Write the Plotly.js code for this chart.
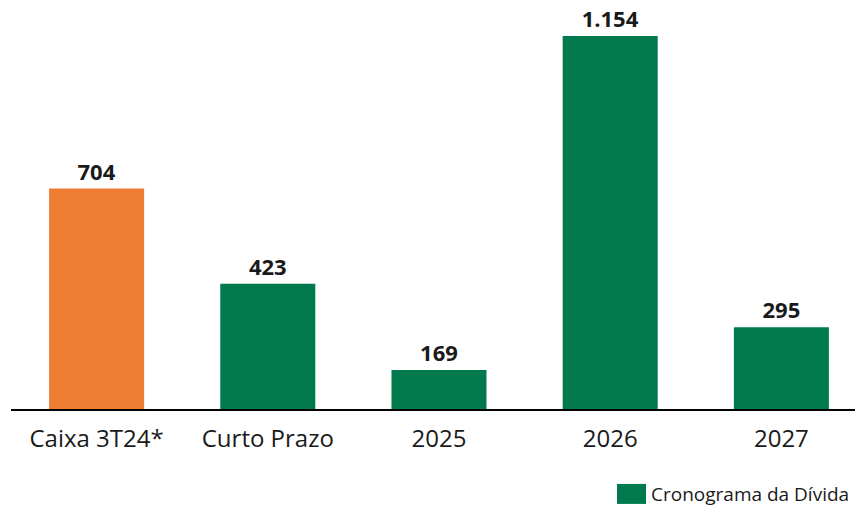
<!DOCTYPE html>
<html><head><meta charset="utf-8">
<script src="https://cdn.plot.ly/plotly-3.0.1.min.js"></script>
<style>body{margin:0;background:#fff}#c{width:855px;height:506px}</style>
</head><body><div id="c"></div>
<script>
const categories = ["Caixa 3T24*", "Curto Prazo", "2025", "2026", "2027"];
const cashCategories = ["Caixa 3T24*"];
const cashValues = [704];
const cashLabels = ["704"];
const debtCategories = ["Curto Prazo", "2025", "2026", "2027"];
const debtValues = [423, 169, 1154, 295];
const debtLabels = ["423", "169", "1.154", "295"];
const seriesName = "Cronograma da Dívida";

const FONT = "Open Sans, Noto Sans, sans-serif";
const labelFont = {family: FONT, size: 22, color: "#1a1a1a", weight: "bold"};

const traces = [
  {type: "bar", x: cashCategories, y: cashValues, text: cashLabels, textposition: "outside",
   texttemplate: "<b>%{text}</b>", textfont: labelFont, cliponaxis: false,
   marker: {color: "#ED7D31"}, width: 0.555, showlegend: false, hoverinfo: "skip"},
  {type: "bar", x: debtCategories, y: debtValues, text: debtLabels, textposition: "outside",
   texttemplate: "<b>%{text}</b>", textfont: labelFont, cliponaxis: false,
   marker: {color: "#007A4D"}, width: 0.555, name: seriesName, hoverinfo: "skip"}
];

const layout = {
  width: 855, height: 506,
  margin: {l: 11, r: 0, t: 0, b: 97, autoexpand: false},
  paper_bgcolor: "#fff", plot_bgcolor: "#fff",
  barmode: "overlay",
  xaxis: {type: "category", categoryorder: "array", categoryarray: categories,
          range: [-0.5, 4.43], showline: true, linecolor: "#000", linewidth: 1.5,
          ticks: "", ticklabelstandoff: 8, showgrid: false, automargin: false,
          tickfont: {family: FONT, size: 24, color: "#1a1a1a"}},
  yaxis: {range: [54, 1260], visible: false, showgrid: false, zeroline: false},
  showlegend: true,
  legend: {x: 1, xanchor: "right", y: -0.208, yanchor: "middle", orientation: "h",
           font: {family: FONT, size: 19, color: "#1a1a1a"}, itemwidth: 30, bgcolor: "rgba(0,0,0,0)"},
  font: {family: FONT}
};
Plotly.newPlot("c", traces, layout, {staticPlot: true, displayModeBar: false}).then(function(gd){
  gd.querySelectorAll(".legendpoints path").forEach(function(p){
    p.setAttribute("d", "M-14,-10h29v20h-29Z");
  });
});
</script></body></html>
